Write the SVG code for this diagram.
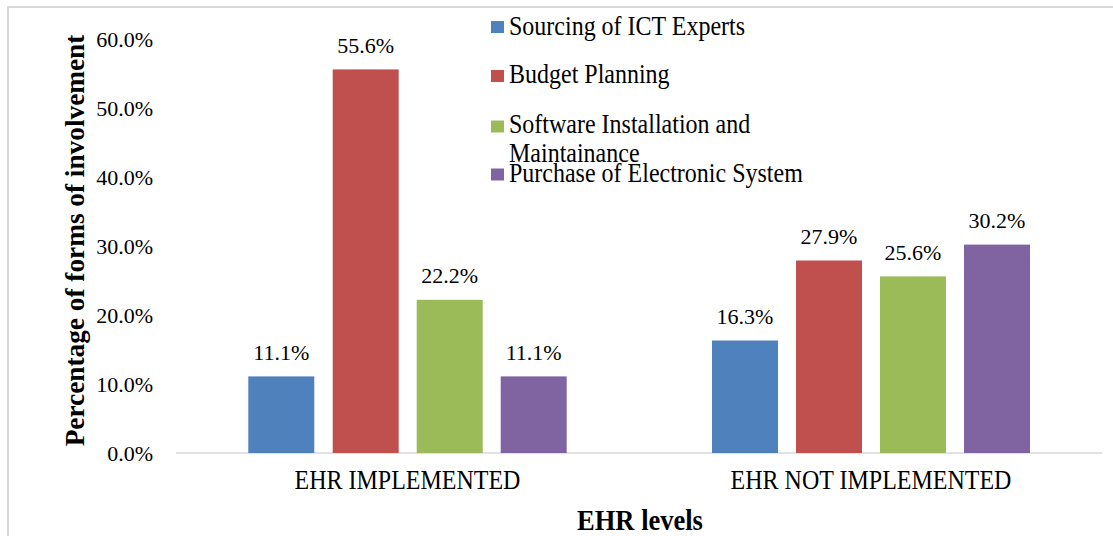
<svg xmlns="http://www.w3.org/2000/svg" width="1113" height="536" viewBox="0 0 1113 536">
  <style>
    text { font-family: "Times New Roman", "Liberation Serif", "DejaVu Serif", serif; fill: #000; }
    .tick { font-size: 22px; text-anchor: end; }
    .val { font-size: 22px; text-anchor: middle; }
    .cat { font-size: 24px; text-anchor: middle; }
    .leg { font-size: 24px; }
    .title { font-size: 26.5px; font-weight: bold; text-anchor: middle; }
    .s1 { fill: #4F81BD; }
    .s2 { fill: #C0504D; }
    .s3 { fill: #9BBB59; }
    .s4 { fill: #8064A2; }
  </style>

  <rect x="0" y="0" width="1113" height="536" fill="#fff"/>
  <!-- chart frame -->
  <rect x="8" y="7" width="1115" height="545" fill="none" stroke="#d9d9d9" stroke-width="2"/>

  <!-- value axis labels -->
  <g id="value-axis">
    <text class="tick" x="153" y="460.5">0.0%</text>
    <text class="tick" x="153" y="391.5">10.0%</text>
    <text class="tick" x="153" y="322.5">20.0%</text>
    <text class="tick" x="153" y="253.5">30.0%</text>
    <text class="tick" x="153" y="184.5">40.0%</text>
    <text class="tick" x="153" y="115.5">50.0%</text>
    <text class="tick" x="153" y="46.5">60.0%</text>
  </g>

  <!-- category axis line -->
  <g id="axis">
    <line x1="176" y1="453" x2="1102" y2="453" stroke="#d9d9d9" stroke-width="1.5"/>
  </g>

  <!-- EHR IMPLEMENTED group -->
  <g id="ehr-implemented">
    <rect class="s1" x="248.3" y="376.4" width="66" height="76.6"/>
    <rect class="s2" x="332.7" y="69.4" width="66" height="383.6"/>
    <rect class="s3" x="416.7" y="299.8" width="66" height="153.2"/>
    <rect class="s4" x="500.7" y="376.4" width="66" height="76.6"/>
    <text class="val" x="281.3" y="360">11.1%</text>
    <text class="val" x="365.7" y="53">55.6%</text>
    <text class="val" x="449.7" y="283.3">22.2%</text>
    <text class="val" x="533.7" y="360">11.1%</text>
    <text class="cat" transform="translate(407.5,489) scale(1,1.1)">EHR IMPLEMENTED</text>
  </g>

  <!-- EHR NOT IMPLEMENTED group -->
  <g id="ehr-not-implemented">
    <rect class="s1" x="712" y="340.5" width="66" height="112.5"/>
    <rect class="s2" x="796" y="260.5" width="66" height="192.5"/>
    <rect class="s3" x="880" y="276.4" width="66" height="176.6"/>
    <rect class="s4" x="964" y="244.6" width="66" height="208.4"/>
    <text class="val" x="745" y="324">16.3%</text>
    <text class="val" x="829" y="244">27.9%</text>
    <text class="val" x="913" y="260">25.6%</text>
    <text class="val" x="997" y="228">30.2%</text>
    <text class="cat" transform="translate(871,489) scale(1,1.1)">EHR NOT IMPLEMENTED</text>
  </g>

  <!-- legend -->
  <g id="legend">
    <rect class="s1" x="491" y="21" width="13" height="12"/>
    <text class="leg" transform="translate(509,35) scale(1,1.1)">Sourcing of ICT Experts</text>
    <rect class="s2" x="491" y="70" width="13" height="12"/>
    <text class="leg" transform="translate(509,83) scale(1,1.1)">Budget Planning</text>
    <rect class="s3" x="491" y="120.5" width="13" height="12"/>
    <text class="leg" transform="translate(509,133) scale(1,1.1)">Software Installation and</text>
    <text class="leg" transform="translate(509,162) scale(1,1.1)">Maintainance</text>
    <rect class="s4" x="491" y="168.5" width="13" height="12"/>
    <text class="leg" transform="translate(509,182) scale(1,1.1)">Purchase of Electronic System</text>
  </g>

  <!-- axis titles -->
  <g id="axis-titles">
    <text class="title" transform="translate(84,240.5) rotate(-90) scale(1.03,1)">Percentage of forms of involvement</text>
    <text class="title" transform="translate(640,530) scale(1,1.08)">EHR levels</text>
  </g>
</svg>
